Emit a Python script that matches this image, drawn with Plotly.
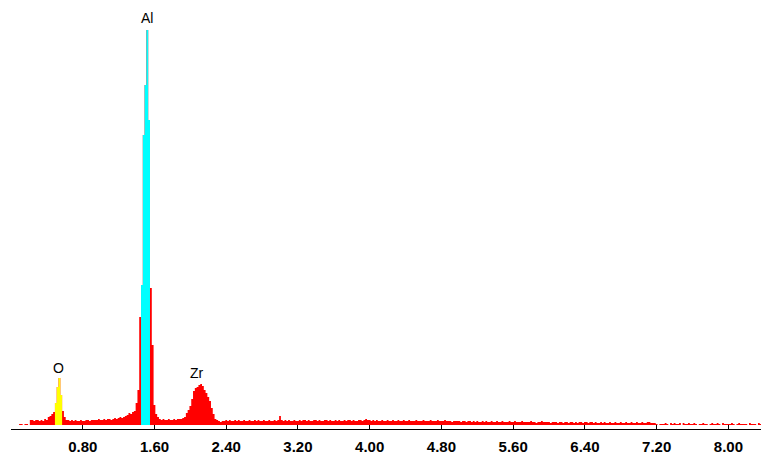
import plotly.graph_objects as go

# ---------------- data ----------------
channel_width = 0.02  # keV per channel, first channel centred at 0.00 keV

counts = [
    0, 0, 0, 0, 0, 10, 10, 0, 10, 10,                     # 0.00-0.18
    0, 50, 50, 40, 50, 50, 40, 50, 40, 60,                # 0.20-0.38
    50, 80, 90, 110, 130, 220, 380, 470, 300, 140,        # 0.40-0.58
    80, 50, 50, 40, 50, 40, 50, 40, 40, 50,               # 0.60-0.78
    40, 40, 50, 50, 40, 50, 50, 50, 50, 60,               # 0.80-0.98
    50, 50, 60, 50, 60, 60, 50, 60, 70, 60,               # 1.00-1.18
    70, 80, 70, 80, 90, 100, 120, 110, 130, 140,          # 1.20-1.38
    220, 350, 1080, 1400, 2900, 3400, 3950, 3050, 1370, 800,  # 1.40-1.58
    200, 110, 80, 60, 50, 60, 50, 50, 60, 50,             # 1.60-1.78
    50, 60, 50, 60, 60, 60, 70, 80, 120, 150,             # 1.80-1.98
    190, 260, 340, 370, 380, 400, 410, 390, 350, 320,     # 2.00-2.18
    280, 240, 170, 110, 60, 50, 40, 30, 40, 40,           # 2.20-2.38
    50, 40, 50, 40, 40, 50, 40, 50, 40, 40,               # 2.40-2.58
    50, 40, 40, 50, 40, 40, 50, 40, 50, 40,               # 2.60-2.78
    40, 50, 40, 40, 50, 40, 40, 50, 40, 50,               # 2.80-2.98
    90, 50, 40, 50, 40, 50, 40, 40, 50, 40,               # 3.00-3.18
    40, 50, 40, 50, 50, 40, 50, 40, 40, 50,               # 3.20-3.38
    50, 40, 50, 40, 40, 50, 50, 40, 50, 40,               # 3.40-3.58
    40, 50, 40, 50, 40, 40, 50, 40, 50, 50,               # 3.60-3.78
    40, 50, 40, 40, 50, 50, 40, 50, 60, 50,               # 3.80-3.98
    50, 40, 50, 40, 50, 40, 40, 50, 40, 40,               # 4.00-4.18
    50, 40, 40, 50, 40, 40, 50, 40, 40, 50,               # 4.20-4.38
    40, 40, 50, 40, 40, 40, 50, 40, 40, 40,               # 4.40-4.58
    50, 40, 40, 40, 50, 40, 40, 40, 50, 40,               # 4.60-4.78
    40, 40, 50, 40, 40, 40, 30, 40, 40, 40,               # 4.80-4.98
    40, 30, 40, 40, 30, 40, 40, 30, 40, 30,               # 5.00-5.18
    40, 30, 30, 40, 30, 40, 30, 30, 40, 30,               # 5.20-5.38
    30, 40, 30, 30, 40, 30, 30, 30, 40, 30,               # 5.40-5.58
    30, 40, 30, 30, 30, 40, 30, 30, 30, 30,               # 5.60-5.78
    40, 30, 30, 20, 30, 30, 40, 30, 30, 30,               # 5.80-5.98
    30, 20, 30, 30, 30, 20, 30, 30, 20, 30,               # 6.00-6.18
    30, 20, 30, 30, 20, 30, 20, 30, 30, 20,               # 6.20-6.38
    30, 30, 20, 30, 30, 20, 30, 20, 20, 30,               # 6.40-6.58
    20, 30, 20, 20, 30, 20, 20, 30, 20, 20,               # 6.60-6.78
    30, 20, 20, 30, 20, 20, 30, 20, 20, 30,               # 6.80-6.98
    20, 20, 30, 20, 20, 30, 30, 20, 20, 20,               # 7.00-7.18
    10, 0, 10, 10, 10, 20, 10, 0, 20, 10,                 # 7.20-7.38
    20, 10, 10, 20, 0, 20, 10, 10, 20, 10,                # 7.40-7.58
    10, 20, 10, 0, 10, 10, 20, 10, 10, 0,                 # 7.60-7.78
    10, 20, 10, 10, 20, 10, 0, 20, 10, 10,                # 7.80-7.98
    10, 10, 20, 10, 0, 10, 20, 10, 10, 10,                # 8.00-8.18
    10, 0, 20, 10, 10, 10, 0, 20, 10, 10,                 # 8.20-8.38
    10, 20, 10,                                           # 8.40-8.44
]

# highlighted regions of interest (keV)
roi_names = ["O", "Al"]
roi_low = [0.49, 1.45]
roi_high = [0.57, 1.55]

# element labels
label_text = ["O", "Al", "Zr"]
label_energy = [0.525, 1.515, 2.075]

# axis ticks
tick_values = [0.80, 1.60, 2.40, 3.20, 4.00, 4.80, 5.60, 6.40, 7.20, 8.00]
tick_labels = ["0.80", "1.60", "2.40", "3.20", "4.00", "4.80", "5.60", "6.40", "7.20", "8.00"]

# ---------------- build ----------------
energy = [round(i * channel_width, 4) for i in range(len(counts))]


def step_xy(e_list, c_list):
    xs = [e - channel_width / 2 for e in e_list] + [e_list[-1] + channel_width / 2]
    ys = list(c_list) + [c_list[-1]]
    return xs, ys


roi_colors = ["#FFFF00", "#00FFFF"]

fig = go.Figure()
xs, ys = step_xy(energy, counts)
fig.add_trace(go.Scatter(x=xs, y=ys, mode="lines", line=dict(shape="hv", width=0, color="#FF0000"),
                         fill="tozeroy", fillcolor="#FF0000", hoverinfo="skip", showlegend=False))

for name, lo, hi, col in zip(roi_names, roi_low, roi_high, roi_colors):
    sel = [(e, c) for e, c in zip(energy, counts) if lo <= e <= hi]
    ex = [s[0] for s in sel]
    cy = [s[1] for s in sel]
    rx, ry = step_xy(ex, cy)
    fig.add_trace(go.Scatter(x=rx, y=ry, mode="lines", line=dict(shape="hv", width=0, color=col),
                             fill="tozeroy", fillcolor=col, hoverinfo="skip", showlegend=False, name=name))

label_shift = [0, 2, 1]
for txt, le, sh in zip(label_text, label_energy, label_shift):
    peak = max(c for e, c in zip(energy, counts) if abs(e - le) <= 0.06)
    fig.add_annotation(x=le, y=peak, text=txt, showarrow=False, yanchor="bottom", xanchor="center",
                       yshift=sh, font=dict(family="Liberation Sans, Arial", size=14, color="black"))

# the page body adds an 8px margin, so the figure is sized to fill the rest of the window
fig.update_layout(
    width=761, height=449,
    margin=dict(l=3, r=0, t=0, b=28, autoexpand=False),
    paper_bgcolor="white", plot_bgcolor="white",
    xaxis=dict(range=[0, 8.453], showline=True, linecolor="black", linewidth=1,
               ticks="inside", ticklen=4, tickwidth=1, tickcolor="black",
               tickvals=tick_values, ticktext=tick_labels,
               tickfont=dict(family="Liberation Sans, Arial", size=15, color="black", weight="bold"),
               ticklabelstandoff=4, automargin=False,
               showgrid=False, zeroline=False, fixedrange=True),
    yaxis=dict(range=[-40, 4170], visible=False, showgrid=False, zeroline=False, fixedrange=True,
               automargin=False),
)

fig.write_html("out.html")
